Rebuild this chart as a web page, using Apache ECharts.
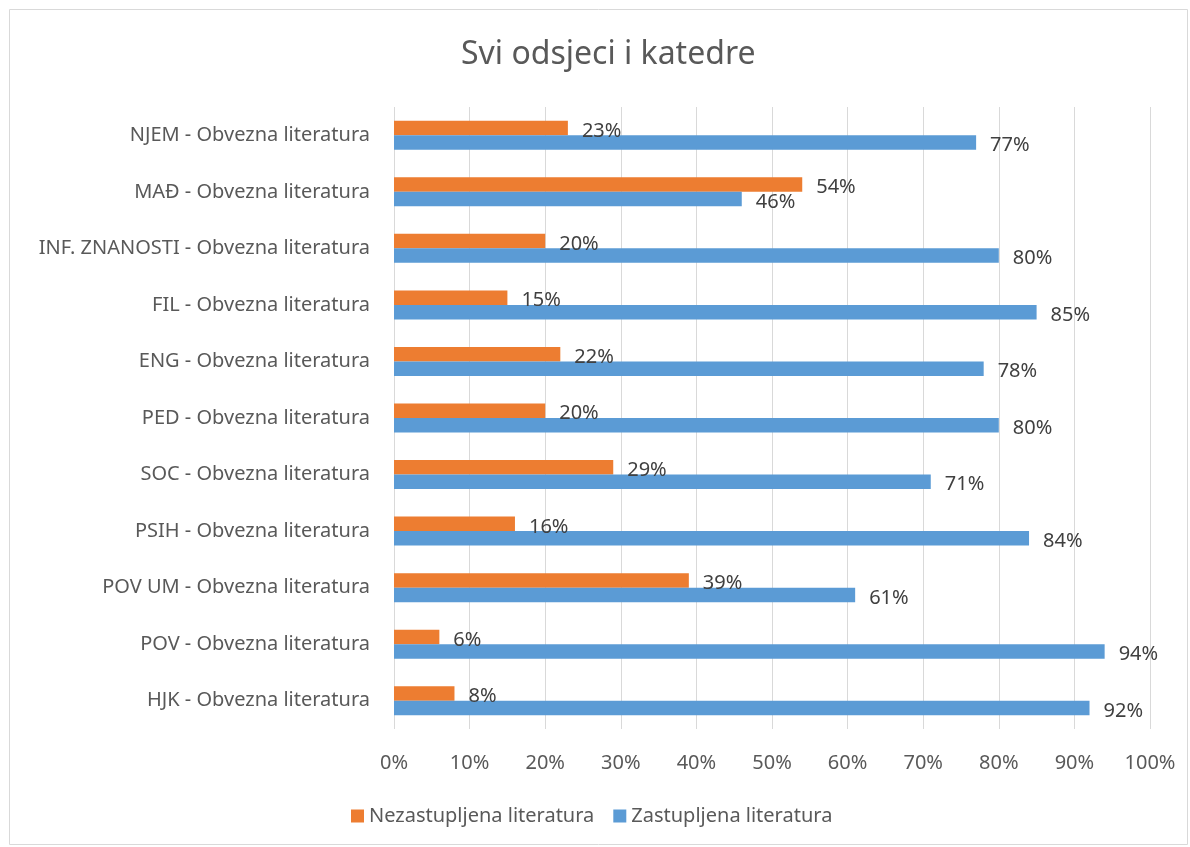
<!DOCTYPE html>
<html>
<head>
    <title>Svi odsjeci i katedre</title>
    <script src="https://cdn.jsdelivr.net/npm/echarts@6/dist/echarts.min.js"></script>
    <style>
        html, body { margin: 0; padding: 0; background: #fff; }
    </style>
</head>
<body>
    <div id="myChart" style="width: 1190px;height:847px;"></div>
    <script>
        // kategorije odozdo prema gore (kao u Excelu)
        var categories = [
            'HJK - Obvezna literatura',
            'POV - Obvezna literatura',
            'POV UM - Obvezna literatura',
            'PSIH - Obvezna literatura',
            'SOC - Obvezna literatura',
            'PED - Obvezna literatura',
            'ENG - Obvezna literatura',
            'FIL - Obvezna literatura',
            'INF. ZNANOSTI - Obvezna literatura',
            'MAĐ - Obvezna literatura',
            'NJEM - Obvezna literatura'
        ];
        var zastupljena = [0.92, 0.94, 0.61, 0.84, 0.71, 0.80, 0.78, 0.85, 0.80, 0.46, 0.77];
        var nezastupljena = [0.08, 0.06, 0.39, 0.16, 0.29, 0.20, 0.22, 0.15, 0.20, 0.54, 0.23];

        var fontFam = '"Noto Sans", "DejaVu Sans", sans-serif';
        var myChart = echarts.init(document.getElementById('myChart'));

        function pct(v) {
            return Math.round(v * 100) + '%';
        }

        var labelStyle = {
            show: true,
            position: 'right',
            distance: 14,
            offset: [0, 3],
            fontSize: 20,
            color: '#404040',
            fontFamily: fontFam,
            formatter: function (p) { return pct(p.value); }
        };

        var option = {
            animation: false,
            textStyle: { fontFamily: fontFam },
            title: {
                text: 'Svi odsjeci i katedre',
                left: 456,
                top: 34,
                textStyle: {
                    fontFamily: fontFam,
                    fontSize: 32,
                    fontWeight: 'normal',
                    color: '#595959'
                }
            },
            graphic: [{
                type: 'rect',
                shape: { x: 9.5, y: 9.5, width: 1178, height: 835 },
                style: { fill: 'none', stroke: '#d9d9d9', lineWidth: 1 },
                silent: true
            }],
            legend: {
                data: ['Nezastupljena literatura', 'Zastupljena literatura'],
                left: 346,
                top: 801,
                itemWidth: 13,
                itemHeight: 13,
                itemGap: 19,
                icon: 'rect',
                textStyle: { fontFamily: fontFam, fontSize: 20, color: '#595959' }
            },
            grid: {
                left: 394,
                right: 40,
                top: 107,
                bottom: 118,
                containLabel: false
            },
            xAxis: {
                type: 'value',
                min: 0,
                max: 1,
                interval: 0.1,
                axisLine: { show: false },
                axisTick: { show: false },
                splitLine: { lineStyle: { color: '#d9d9d9', width: 1 } },
                axisLabel: {
                    margin: 24,
                    fontSize: 20,
                    color: '#595959',
                    fontFamily: fontFam,
                    formatter: function (v) { return pct(v); }
                }
            },
            yAxis: {
                type: 'category',
                data: categories,
                axisLine: { show: false },
                axisTick: { show: false },
                axisLabel: {
                    margin: 24,
                    fontSize: 20,
                    color: '#595959',
                    fontFamily: fontFam
                }
            },
            series: [{
                name: 'Nezastupljena literatura',
                type: 'bar',
                data: nezastupljena,
                barWidth: 14.5,
                barGap: '0%',
                itemStyle: { color: '#ed7d31' },
                label: labelStyle
            }, {
                name: 'Zastupljena literatura',
                type: 'bar',
                data: zastupljena,
                barWidth: 14.5,
                barGap: '0%',
                itemStyle: { color: '#5b9bd5' },
                label: labelStyle
            }]
        };
        myChart.setOption(option);
    </script>
</body>
</html>
